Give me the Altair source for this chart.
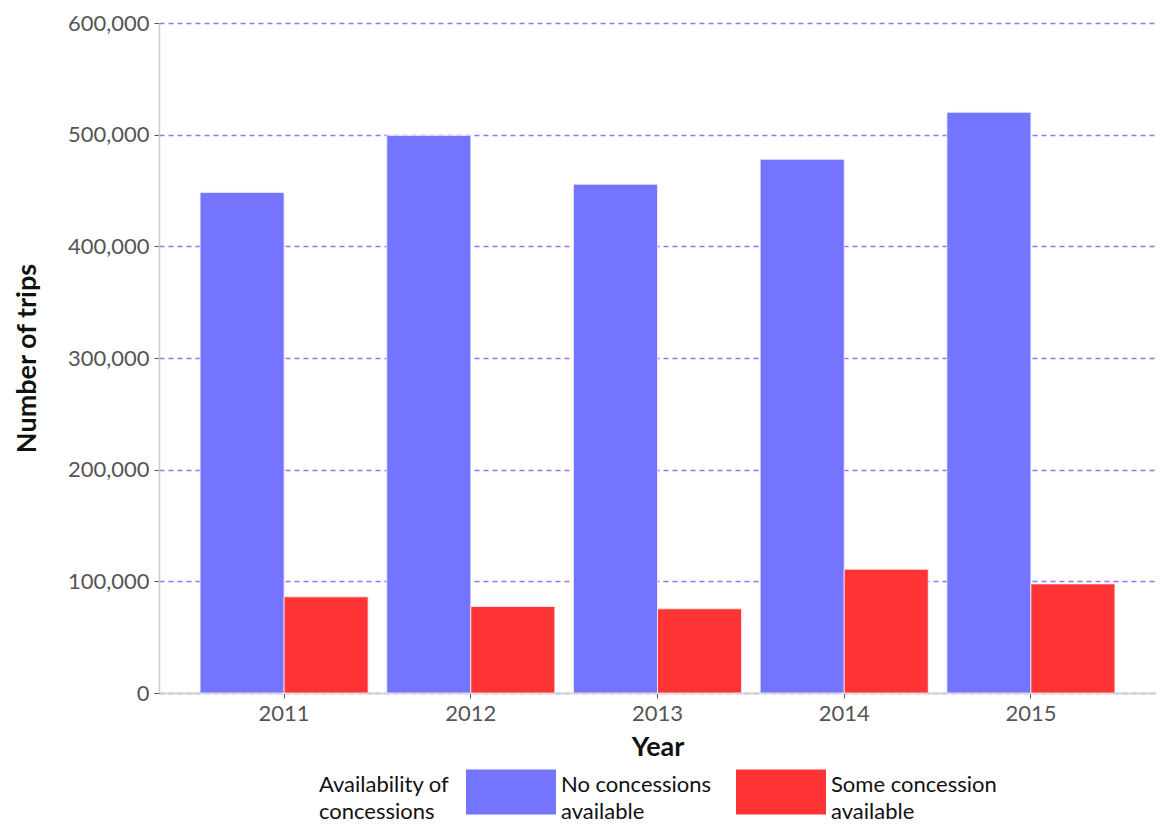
import altair as alt
import pandas as pd

years = ["2011", "2012", "2013", "2014", "2015"]
no_concessions = [448300, 499300, 455600, 477900, 520000]
some_concession = [86100, 77500, 75400, 110800, 97700]
series = ["No concessions available", "Some concession available"]
colors = ["#7474ff", "#ff3535"]
y_ticks = [0, 100000, 200000, 300000, 400000, 500000, 600000]

rows = []
for i, y in enumerate(years):
    rows.append({"Year": y, "Availability": series[0], "Trips": no_concessions[i]})
    rows.append({"Year": y, "Availability": series[1], "Trips": some_concession[i]})
df = pd.DataFrame(rows)

FONT = "Lato"

chart = alt.Chart(df).mark_bar(stroke="#f0f0ff", strokeWidth=0.8).encode(
    x=alt.X("Year:N", title="Year",
            scale=alt.Scale(paddingInner=0.1, paddingOuter=0.22),
            axis=alt.Axis(labelAngle=0, labelFontSize=22, labelColor="#555555",
                          titleFontSize=27, titleFontWeight="bold", titleColor="#111111",
                          domainColor="#cccccc", domainWidth=1.5, tickColor="#555555",
                          tickSize=5, labelPadding=5, titlePadding=10, grid=False)),
    xOffset=alt.XOffset("Availability:N", sort=series),
    y=alt.Y("Trips:Q", title="Number of trips",
            scale=alt.Scale(domain=[0, 600000]),
            axis=alt.Axis(values=y_ticks,
                          format=",d", labelFontSize=22, labelColor="#555555",
                          titleFontSize=27, titleFontWeight="bold", titleColor="#111111",
                          domainColor="#cccccc", domainWidth=1.5, tickColor="#555555",
                          tickSize=5, labelPadding=5, titlePadding=26,
                          grid=True, gridColor="#9d6cff", gridOpacity=1,
                          gridDash=[5, 4], gridWidth=1.3)),
    color=alt.Color("Availability:N", sort=series,
                    scale=alt.Scale(domain=series, range=colors),
                    legend=alt.Legend(
                        title=["Availability of", "concessions"],
                        orient="none", legendX=160, legendY=724,
                        direction="horizontal", titleOrient="left",
                        titleFontSize=22, titleFontWeight="normal", titleColor="#111111",
                        titleLineHeight=27, titlePadding=16,
                        titleBaseline="line-top",
                        labelFontSize=22, labelColor="#111111", labelLimit=300,
                        labelBaseline="alphabetic",
                        labelExpr="datum.label == 'No concessions available' ? ['No concessions', 'available'] : ['Some concession', 'available']",
                        symbolType="M-1,-0.5H1V0.5H-1Z", symbolSize=8100,
                        symbolStrokeWidth=0, symbolOpacity=1, labelOffset=5,
                        columnPadding=24, padding=0)),
).properties(width=997, height=670)

chart = (chart.configure(font=FONT, padding={"left": 5, "top": 4, "right": 0, "bottom": 0},
                         style={"guide-label": {"lineHeight": 27}})
         .configure_view(stroke=None))

chart.save("out.html", embed_options={"renderer": "svg", "actions": False})
